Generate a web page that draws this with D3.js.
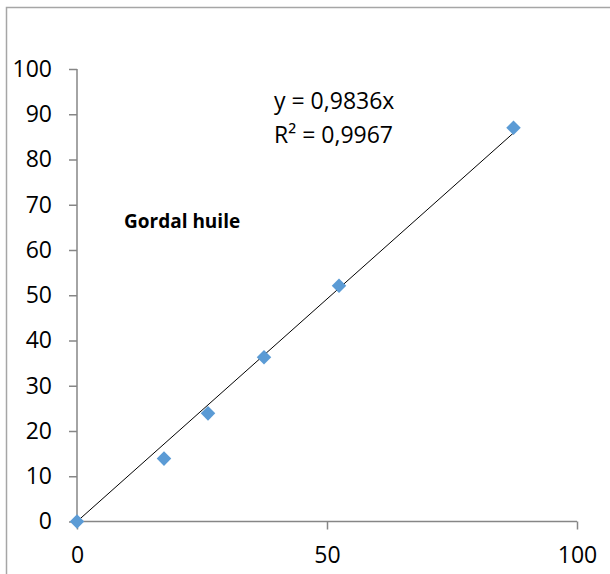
<!DOCTYPE html>
<html>
<head>
<meta charset="utf-8">
<script src="https://cdn.jsdelivr.net/npm/d3@7"></script>
<style>
  body { margin: 0; background: #fff; }
  text { font-family: "Open Sans", "Noto Sans", sans-serif; }
</style>
</head>
<body>
<div id="chart"></div>
<script>
// data
const xValues = [0, 17.4, 26.2, 37.4, 52.4, 87.3];
const yValues = [0, 13.9, 23.9, 36.3, 52.1, 87.0];
const slope = 0.9836;
const xTicks = [0, 50, 100];
const yTicks = [0, 10, 20, 30, 40, 50, 60, 70, 80, 90, 100];
const equationLines = ['y = 0,9836x', 'R² = 0,9967'];
const seriesLabel = 'Gordal huile';

const width = 610;
const height = 574;

const svg = d3.select('#chart')
  .append('svg')
  .attr('width', width)
  .attr('height', height);

// outer chart border
svg.append('rect')
  .attr('x', 6.5).attr('y', 7.5)
  .attr('width', width + 10).attr('height', height + 10)
  .attr('fill', 'none')
  .attr('stroke', '#a6a6a6')
  .attr('stroke-width', 1.5);

const xScale = d3.scaleLinear().domain([0, 100]).range([77, 577]);
const yScale = d3.scaleLinear().domain([0, 100]).range([521.5, 69]);

/* Axes */
const xAxis = d3.axisBottom(xScale).tickValues(xTicks).tickSize(8).tickPadding(17).tickFormat(d3.format('d'));
const yAxis = d3.axisLeft(yScale).tickValues(yTicks).tickSize(8).tickPadding(17).tickFormat(d3.format('d'));

const gx = svg.append('g')
  .attr('transform', `translate(0, ${yScale(0)})`)
  .call(xAxis);

const gy = svg.append('g')
  .attr('transform', `translate(${xScale(0)}, 0)`)
  .call(yAxis);

[gx, gy].forEach((g) => {
  g.attr('font-size', 23).attr('font-family', '"Open Sans", "Noto Sans", sans-serif');
  g.select('.domain').attr('stroke', '#868686').attr('stroke-width', 1.5);
  g.selectAll('.tick line').attr('stroke', '#868686').attr('stroke-width', 1.5);
  g.selectAll('.tick text').attr('fill', '#000');
});
// axis domain without the outer tick ends
gx.select('.domain').attr('d', `M${xScale(0)},0H${xScale(100)}`);
gy.select('.domain').attr('d', `M0,${yScale(0)}V${yScale(100)}`);

/* Trend line */
const xMax = d3.max(xValues);
svg.append('line')
  .attr('x1', xScale(0)).attr('y1', yScale(0))
  .attr('x2', xScale(xMax)).attr('y2', yScale(slope * xMax))
  .attr('stroke', '#000')
  .attr('stroke-width', 1);

/* Points */
const points = xValues.map((x, i) => ({ x: x, y: yValues[i] }));
svg.append('g')
  .selectAll('path')
  .data(points)
  .enter()
  .append('path')
  .attr('d', d3.symbol().type(d3.symbolDiamond2).size(135))
  .attr('transform', (d) => `translate(${xScale(d.x)}, ${yScale(d.y)})`)
  .attr('fill', '#5b9bd5');

/* Labels */
svg.append('g')
  .selectAll('text')
  .data(equationLines)
  .enter()
  .append('text')
  .attr('x', 274)
  .attr('y', (d, i) => 109 + i * 34)
  .style('font-size', '23px')
  .attr('fill', '#000')
  .text((d) => d);

svg.append('text')
  .attr('x', 124)
  .attr('y', 228)
  .style('font-size', '19px')
  .style('font-weight', 'bold')
  .attr('fill', '#000')
  .text(seriesLabel);
</script>
</body>
</html>
